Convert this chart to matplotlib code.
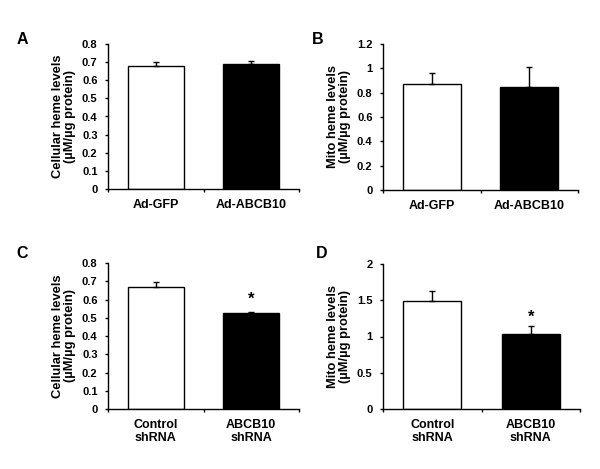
import matplotlib
matplotlib.use('Agg')
import matplotlib.pyplot as plt

plt.rcParams['font.family'] = ['Liberation Sans', 'DejaVu Sans']
plt.rcParams['font.weight'] = 'bold'

cats_ad = ['Ad-GFP', 'Ad-ABCB10']
cats_sh = ['Control\nshRNA', 'ABCB10\nshRNA']

heme_a = [0.679, 0.688]
err_a = [0.024, 0.020]
heme_b = [0.871, 0.849]
err_b = [0.093, 0.162]
heme_c = [0.667, 0.524]
err_c = [0.029, 0.006]
heme_d = [1.495, 1.041]
err_d = [0.133, 0.101]

cell_label = 'Cellular heme levels\n(\u00b5M/\u00b5g protein)'
mito_label = 'Mito heme levels\n(\u00b5M/\u00b5g protein)'

W, H = 600, 469


def px_axes(fig, left, top, right, bottom):
    return fig.add_axes([left / W, 1 - bottom / H, (right - left) / W, (bottom - top) / H])


def draw_panel(ax, cats, vals, errs, ylabel, ymax, ystep, star=None):
    x = [0, 1]
    ax.bar(x, vals, width=0.59, color=['white', 'black'], edgecolor='black', linewidth=1.0,
           yerr=[[0, 0], errs], capsize=2.5, error_kw=dict(elinewidth=1.0, capthick=1.0, ecolor='black'),
           zorder=2)
    ax.set_xlim(-0.5, 1.5)
    ax.set_ylim(0, ymax)
    n = int(round(ymax / ystep))
    ticks = [i * ystep for i in range(n + 1)]
    ax.set_yticks(ticks)
    ax.set_yticklabels(['%g' % round(t, 2) for t in ticks], fontsize=8, fontweight='bold')
    ax.set_xticks([-0.5, 0.5, 1.5])
    ax.set_xticklabels([])
    ax.set_xticks(x, minor=True)
    ax.set_xticklabels(cats, minor=True, fontsize=9, fontweight='bold', linespacing=1.1)
    ax.tick_params(axis='x', which='minor', length=0, pad=7)
    ax.tick_params(axis='x', which='major', length=2.5, direction='out', width=1)
    ax.tick_params(axis='y', length=2.5, direction='out', width=1, pad=5)
    for s in ['top', 'right']:
        ax.spines[s].set_visible(False)
    ax.spines['left'].set_linewidth(1)
    ax.spines['bottom'].set_linewidth(1)
    ax.set_ylabel(ylabel, fontsize=9.3, fontweight='bold', labelpad=4, linespacing=1.1)
    if star is not None:
        ax.text(1, star, '*', ha='center', va='center', fontsize=12, fontweight='bold')


fig = plt.figure(figsize=(6, 4.69), dpi=100)

ax_a = px_axes(fig, 108, 44, 299, 189)
draw_panel(ax_a, cats_ad, heme_a, err_a, cell_label, 0.8, 0.1)
ax_b = px_axes(fig, 383, 44, 578, 190)
draw_panel(ax_b, cats_ad, heme_b, err_b, mito_label, 1.2, 0.2)
ax_c = px_axes(fig, 108, 263, 299, 409)
draw_panel(ax_c, cats_sh, heme_c, err_c, cell_label, 0.8, 0.1, star=0.6)
ax_d = px_axes(fig, 383, 264, 580, 409)
draw_panel(ax_d, cats_sh, heme_d, err_d, mito_label, 2.0, 0.5, star=1.26)

for letter, xp, yp in [('A', 22, 39), ('B', 318, 39), ('C', 22, 253), ('D', 322, 253)]:
    fig.text(xp / W, 1 - yp / H, letter, fontsize=11.5, fontweight='bold', ha='center', va='center')

fig.savefig('out.png', dpi=100)
